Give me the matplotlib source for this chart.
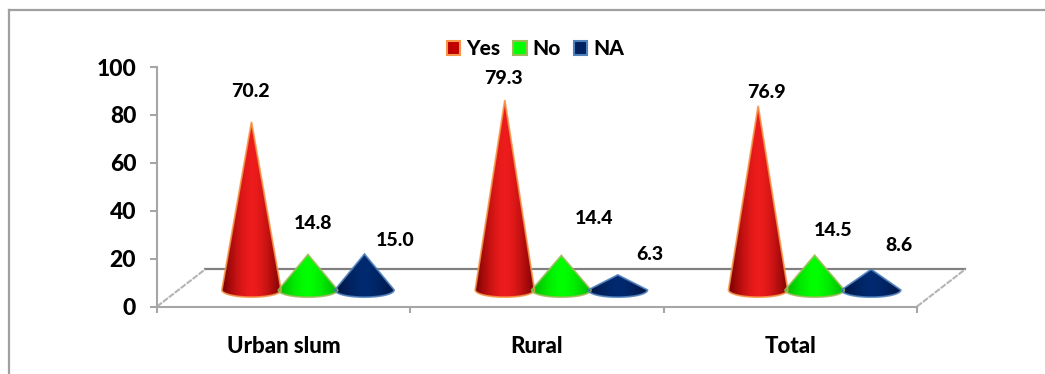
from matplotlib.colors import to_rgb
from matplotlib.lines import Line2D
from matplotlib.patches import Patch, PathPatch
from matplotlib.path import Path
import matplotlib.pyplot as plt
import numpy as np

categories = ["Urban slum", "Rural", "Total"]
series_names = ["Yes", "No", "NA"]
yes_values = [70.2, 79.3, 76.9]
no_values = [14.8, 14.4, 14.5]
na_values = [15.0, 6.3, 8.6]
y_ticks = [0, 20, 40, 60, 80, 100]

plt.rcParams["font.family"] = ["Lato", "DejaVu Sans"]
plt.rcParams["font.weight"] = 900

W, H = 1045, 374
GREY = "#a6a6a6"

# (edge dark, highlight, outline, legend fill) for each series
styles = [
    ("#7a0000", "#ee1c1c", "#f79646", "#c00000"),
    ("#00b400", "#00ff00", "#9bbb59", "#00ff00"),
    ("#001440", "#002a70", "#4f81bd", "#002060"),
]
# label offsets from the cone tip in pixels, one row per series
label_dx = [[-1, -1, 8], [5, 33, 18], [31, 32, 28]]
label_dy = [[30, 22, 13], [31, 37, 25], [14, 20, 24]]


def draw_cone(ax, x, height, base, half_w, half_h, style):
    t = np.linspace(np.pi, 2 * np.pi, 40)
    xs = np.r_[x, x + half_w * np.cos(t)]
    ys = np.r_[base + height, base + half_h * np.sin(t)]
    path = Path(np.c_[np.r_[xs, xs[0]], np.r_[ys, ys[0]]], closed=True)

    c0 = np.array(to_rgb(style[0]))
    c1 = np.array(to_rgb(style[1]))
    u = np.linspace(-1, 1, 64)
    w = np.clip(1 - np.abs(u) ** 1.6, 0, 1)[None, :, None]
    im = ax.imshow(
        c0 + (c1 - c0) * w,
        extent=(x - half_w, x + half_w, base - half_h, base + height),
        aspect="auto",
        zorder=3,
        interpolation="bilinear",
    )
    patch = PathPatch(path, facecolor="none", edgecolor=style[2], linewidth=1.3, alpha=0.85, zorder=3.1)
    ax.add_patch(patch)
    im.set_clip_path(patch)


fig = plt.figure(figsize=(W / 100, H / 100), dpi=100)
ax = fig.add_axes([157 / W, 1 - 306.5 / H, 760 / W, 239.5 / H])
ax.patch.set_alpha(0)

# outer frame runs off the right and bottom of the picture
fig.add_artist(Line2D([9 / W, 9 / W], [0, 1 - 9.5 / H], color="#a0a0a0", lw=1.6))
fig.add_artist(Line2D([9 / W, 1], [1 - 9.5 / H, 1 - 9.5 / H], color="#a0a0a0", lw=1.6))

for spine in ("top", "right"):
    ax.spines[spine].set_visible(False)
for spine in ("left", "bottom"):
    ax.spines[spine].set_color(GREY)
    ax.spines[spine].set_linewidth(1.5)

x_pos = np.arange(len(categories))
values = [yes_values, no_values, na_values]

# floor of the 3-D box
depth_x, depth_y = 0.19, 15.5
ax.plot([-0.5 + depth_x, 2.5 + depth_x], [depth_y, depth_y], color="#808080", lw=1.6, clip_on=False, zorder=1)
for x0 in (-0.5, 2.5):
    ax.plot([x0, x0 + depth_x], [0, depth_y], color="#b4b4b4", lw=1.5, ls=(0, (3, 0.6)), clip_on=False, zorder=1)

for i, series in enumerate(values):
    for j, v in enumerate(series):
        cx = x_pos[j] + 0.096 + (i - 1) * 0.223
        draw_cone(ax, cx, v, 6.9, 0.117, 3.0, styles[i])
        ax.annotate(
            f"{v:.1f}",
            (cx, 6.9 + v),
            xytext=(label_dx[i][j] * 0.72, label_dy[i][j] * 0.72),
            textcoords="offset points",
            ha="center",
            va="center",
            fontsize=14,
            color="black",
            zorder=5,
        )

ax.set_xlim(-0.5, 2.5)
ax.set_ylim(0, 100)

ax.set_yticks(y_ticks)
ax.tick_params(axis="y", length=5, width=1.5, color=GREY, labelsize=16.5, pad=10)
ax.set_xticks(np.r_[x_pos - 0.5, 2.5])
ax.set_xticklabels([])
ax.set_xticks(x_pos, minor=True)
ax.set_xticklabels(categories, minor=True)
ax.tick_params(axis="x", which="major", length=4, width=1.5, color=GREY)
ax.tick_params(axis="x", which="minor", length=0, labelsize=16, pad=21)

handles = [Patch(facecolor=s[3], edgecolor=s[2], lw=1.5) for s in styles]
ax.legend(
    handles,
    series_names,
    ncol=3,
    loc="center",
    bbox_to_anchor=(0.498, 1.077),
    frameon=False,
    fontsize=15,
    handlelength=0.65,
    handleheight=0.65,
    handletextpad=0.3,
    columnspacing=0.6,
    borderpad=0,
)

fig.savefig("out.png", dpi=100)
